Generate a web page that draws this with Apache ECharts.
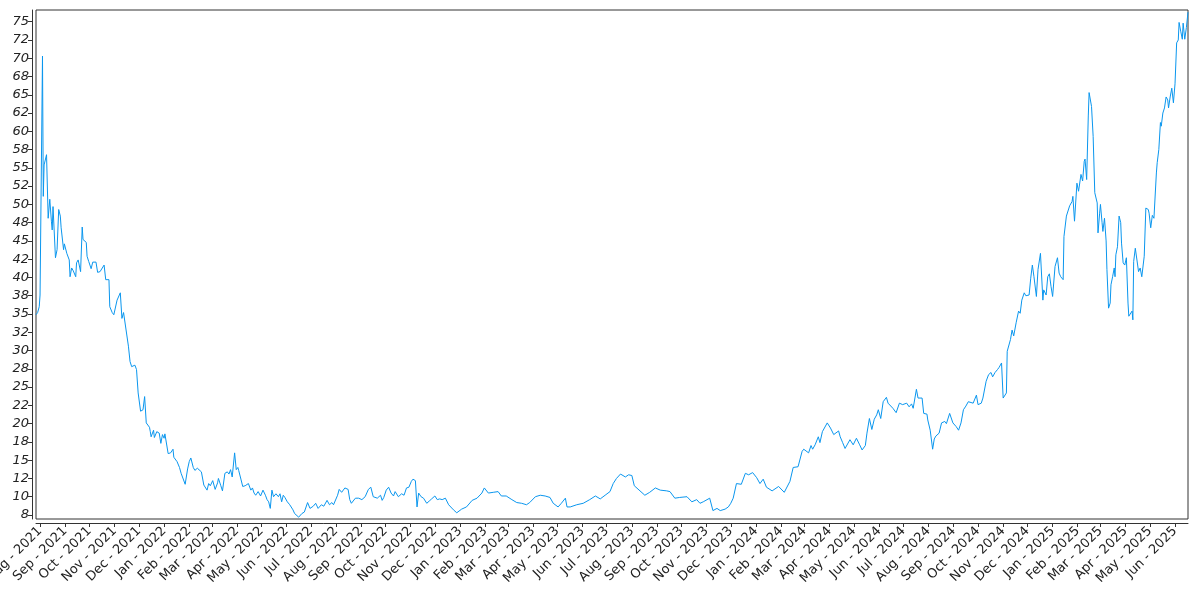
<!DOCTYPE html>
<html><head><meta charset="utf-8">
<script src="https://cdn.jsdelivr.net/npm/echarts@6/dist/echarts.min.js"></script>
<style>html,body{margin:0;padding:0;background:#fff}#c{width:1200px;height:600px}</style>
</head><body><div id="c"></div>
<script>
const dates = [
'2021-07-27','2021-07-29','2021-07-31','2021-08-01','2021-08-04','2021-08-05','2021-08-06','2021-08-09','2021-08-11','2021-08-13','2021-08-15','2021-08-16','2021-08-17','2021-08-20','2021-08-22','2021-08-24','2021-08-26','2021-08-27','2021-08-30','2021-08-31',
'2021-09-02','2021-09-03','2021-09-06','2021-09-07','2021-09-09','2021-09-11','2021-09-14','2021-09-15','2021-09-17','2021-09-20','2021-09-22','2021-09-23','2021-09-27','2021-09-28','2021-09-30',
'2021-10-03','2021-10-05','2021-10-07','2021-10-09','2021-10-11','2021-10-14','2021-10-16','2021-10-19','2021-10-21','2021-10-25','2021-10-26','2021-10-29','2021-10-31',
'2021-11-04','2021-11-08','2021-11-10','2021-11-12','2021-11-14','2021-11-18','2021-11-20','2021-11-22','2021-11-26','2021-11-28','2021-11-30',
'2021-12-03','2021-12-06','2021-12-08','2021-12-10','2021-12-14','2021-12-15','2021-12-16','2021-12-19','2021-12-20','2021-12-23','2021-12-26','2021-12-28','2021-12-30',
'2022-01-01','2022-01-02','2022-01-06','2022-01-09','2022-01-12','2022-01-13','2022-01-17','2022-01-20','2022-01-22','2022-01-24','2022-01-27','2022-01-30',
'2022-02-01','2022-02-03','2022-02-06','2022-02-08','2022-02-11','2022-02-13','2022-02-16','2022-02-19','2022-02-23','2022-02-25','2022-02-27',
'2022-03-02','2022-03-05','2022-03-08','2022-03-09','2022-03-12','2022-03-14','2022-03-17','2022-03-20','2022-03-22','2022-03-24','2022-03-26','2022-03-29','2022-03-31',
'2022-04-02','2022-04-03','2022-04-06','2022-04-08','2022-04-11','2022-04-13','2022-04-15','2022-04-18','2022-04-20','2022-04-22','2022-04-24','2022-04-27','2022-04-30',
'2022-05-03','2022-05-06','2022-05-08','2022-05-10','2022-05-12','2022-05-14','2022-05-16','2022-05-19','2022-05-22','2022-05-24','2022-05-26','2022-05-28','2022-05-30',
'2022-06-02','2022-06-05','2022-06-09','2022-06-11','2022-06-16','2022-06-20','2022-06-23','2022-06-27','2022-06-30',
'2022-07-04','2022-07-07','2022-07-10','2022-07-14','2022-07-17','2022-07-21','2022-07-24','2022-07-27','2022-07-29',
'2022-08-03','2022-08-05','2022-08-08','2022-08-12','2022-08-16','2022-08-18','2022-08-20','2022-08-25','2022-08-29',
'2022-09-02','2022-09-06','2022-09-10','2022-09-13','2022-09-16','2022-09-21','2022-09-25','2022-09-27','2022-09-29',
'2022-10-02','2022-10-05','2022-10-08','2022-10-11','2022-10-13','2022-10-17','2022-10-21','2022-10-24','2022-10-27','2022-10-30',
'2022-11-02','2022-11-04','2022-11-07','2022-11-09','2022-11-11','2022-11-14','2022-11-17','2022-11-21','2022-11-24','2022-11-27',
'2022-12-01','2022-12-04','2022-12-07','2022-12-10','2022-12-14','2022-12-18','2022-12-24','2022-12-28',
'2023-01-03','2023-01-09','2023-01-16','2023-01-22','2023-01-28','2023-01-31',
'2023-02-05','2023-02-11','2023-02-17','2023-02-21','2023-02-27',
'2023-03-06','2023-03-12','2023-03-18','2023-03-24','2023-03-28',
'2023-04-04','2023-04-10','2023-04-16','2023-04-22','2023-04-26',
'2023-05-02','2023-05-06','2023-05-11','2023-05-13','2023-05-17','2023-05-25',
'2023-06-02','2023-06-10','2023-06-17','2023-06-23','2023-06-29',
'2023-07-05','2023-07-09','2023-07-13','2023-07-18','2023-07-24','2023-07-28',
'2023-08-01','2023-08-04','2023-08-11','2023-08-17','2023-08-23','2023-08-30',
'2023-09-05','2023-09-13','2023-09-17','2023-09-23','2023-09-29',
'2023-10-08','2023-10-14','2023-10-20','2023-10-24','2023-10-28',
'2023-11-05','2023-11-09','2023-11-14','2023-11-18','2023-11-24','2023-11-28',
'2023-12-01','2023-12-04','2023-12-08','2023-12-14','2023-12-19','2023-12-23','2023-12-28',
'2024-01-02','2024-01-06','2024-01-10','2024-01-14','2024-01-21','2024-01-29',
'2024-02-05','2024-02-12','2024-02-16','2024-02-22','2024-02-27','2024-02-29',
'2024-03-06','2024-03-09','2024-03-11','2024-03-14','2024-03-18','2024-03-20','2024-03-23','2024-03-29',
'2024-04-02','2024-04-06','2024-04-12','2024-04-14','2024-04-17','2024-04-20','2024-04-26','2024-04-30',
'2024-05-04','2024-05-08','2024-05-11','2024-05-15','2024-05-17','2024-05-20','2024-05-23','2024-05-26','2024-05-29','2024-05-31',
'2024-06-03','2024-06-06','2024-06-10','2024-06-12','2024-06-18','2024-06-22','2024-06-26','2024-06-30',
'2024-07-05','2024-07-08','2024-07-11','2024-07-13','2024-07-17','2024-07-19','2024-07-24','2024-07-26','2024-07-30','2024-07-31',
'2024-08-03','2024-08-06','2024-08-08','2024-08-10','2024-08-14','2024-08-17','2024-08-21','2024-08-23','2024-08-27','2024-08-31',
'2024-09-04','2024-09-07','2024-09-10','2024-09-13','2024-09-16','2024-09-19','2024-09-25','2024-09-29',
'2024-10-01','2024-10-05','2024-10-07','2024-10-11','2024-10-14','2024-10-17','2024-10-19','2024-10-22','2024-10-25','2024-10-27','2024-10-30',
'2024-11-01','2024-11-05','2024-11-06','2024-11-10','2024-11-12','2024-11-14','2024-11-17','2024-11-20','2024-11-22','2024-11-24','2024-11-27','2024-11-29',
'2024-12-03','2024-12-05','2024-12-07','2024-12-09','2024-12-12','2024-12-14','2024-12-17','2024-12-20','2024-12-21','2024-12-24','2024-12-26','2024-12-28','2024-12-30',
'2025-01-01','2025-01-04','2025-01-07','2025-01-09','2025-01-11','2025-01-14','2025-01-15','2025-01-18','2025-01-22','2025-01-25','2025-01-26','2025-01-28','2025-01-31',
'2025-02-02','2025-02-04','2025-02-05','2025-02-07','2025-02-09','2025-02-10','2025-02-12','2025-02-14','2025-02-15','2025-02-18','2025-02-20','2025-02-22','2025-02-25','2025-02-26','2025-02-28',
'2025-03-01','2025-03-03','2025-03-04','2025-03-06','2025-03-08','2025-03-09','2025-03-11','2025-03-13','2025-03-14','2025-03-16','2025-03-18','2025-03-19','2025-03-20','2025-03-22','2025-03-24','2025-03-26','2025-03-27','2025-03-29','2025-03-31',
'2025-04-02','2025-04-04','2025-04-05','2025-04-07','2025-04-09','2025-04-10','2025-04-11','2025-04-13','2025-04-15','2025-04-17','2025-04-19','2025-04-21','2025-04-24','2025-04-26','2025-04-29','2025-04-30',
'2025-05-02','2025-05-04','2025-05-06','2025-05-09','2025-05-10','2025-05-12','2025-05-14','2025-05-15','2025-05-17','2025-05-19','2025-05-21','2025-05-23','2025-05-24','2025-05-26','2025-05-28','2025-05-30',
'2025-06-01','2025-06-03','2025-06-05','2025-06-06','2025-06-08','2025-06-10','2025-06-11','2025-06-13','2025-06-15','2025-06-17'
];
const values = [
34.9,35.2,36.0,37.6,70.3,51.1,55.4,56.8,48.1,50.7,47.7,46.5,49.7,42.7,43.8,49.3,48.4,46.8,43.8,44.6,
44.5,43.3,42.4,40.1,41.3,40.9,40.1,42.0,42.4,40.8,46.9,45.2,44.8,42.9,42.2,
41.2,42.1,41.9,42.1,40.7,40.8,40.6,41.7,39.7,39.7,36.0,35.2,34.9,
36.9,37.9,34.4,35.2,35.0,30.6,28.5,27.8,28.0,27.4,24.2,
21.7,21.9,23.7,20.1,19.5,18.9,18.2,19.1,18.1,18.9,18.7,17.3,18.5,
18.0,18.6,15.9,16.0,16.5,15.4,14.8,14.0,13.2,13.1,11.7,13.8,
14.8,15.3,14.0,13.6,13.9,13.7,13.4,11.6,10.9,11.8,11.5,
12.2,11.0,11.9,12.5,11.5,10.8,13.2,13.4,13.1,13.7,12.7,16.0,13.7,
14.0,13.6,12.3,11.4,11.5,11.3,11.8,10.9,11.2,10.5,10.2,10.7,10.1,
10.9,10.2,9.6,9.3,8.4,10.9,10.0,10.4,10.0,10.4,9.3,10.2,9.9,
9.3,8.9,8.2,7.7,7.2,7.7,7.9,9.2,8.4,
8.7,9.1,8.4,8.9,8.7,9.5,8.9,9.2,8.9,
10.2,11.0,10.6,11.2,11.0,9.6,9.1,9.8,9.8,
9.6,10.0,11.0,11.3,10.0,9.8,10.2,9.5,9.9,
10.9,11.3,10.5,10.1,10.7,10.0,10.4,10.2,11.2,11.3,
12.1,12.4,12.2,8.6,10.5,10.0,9.8,9.1,9.4,9.7,
10.1,9.6,9.7,9.6,9.8,8.9,8.2,7.8,
8.3,8.6,9.5,9.8,10.5,11.2,
10.5,10.6,10.7,10.1,10.1,
9.6,9.2,9.1,8.9,9.2,
10.0,10.2,10.1,9.9,9.1,
8.6,9.1,9.8,8.6,8.6,8.9,
9.1,9.6,10.1,9.7,10.2,
10.7,11.8,12.5,13.1,12.7,13.0,
12.9,11.5,10.8,10.2,10.6,11.2,
10.9,10.8,10.7,9.8,9.9,
10.0,9.3,9.6,9.1,9.3,
9.8,8.1,8.4,8.1,8.3,8.6,
9.1,9.8,11.8,11.7,13.2,13.0,13.3,
12.6,11.8,12.4,11.3,10.8,11.4,
10.6,12.1,14.0,14.1,16.2,16.5,
16.0,17.0,16.5,17.1,18.2,17.4,18.9,20.1,
19.4,18.5,19.0,18.2,17.4,16.6,17.8,17.1,
18.0,17.1,16.4,17.0,18.7,20.7,19.2,20.6,21.2,21.9,
20.7,23.0,23.6,22.8,22.1,21.5,22.8,22.6,
22.8,22.3,22.7,22.1,24.7,23.5,23.5,21.4,21.3,20.5,
19.1,16.5,17.9,18.3,18.7,20.1,20.3,20.0,21.4,20.1,
19.6,19.1,20.1,21.9,22.4,23.0,22.8,23.9,
22.6,22.8,23.5,25.8,26.7,27.0,26.4,27.0,27.4,27.7,28.3,
23.5,24.2,29.9,31.5,32.8,32.0,33.8,35.4,35.1,36.9,37.9,37.5,
37.6,39.9,41.7,40.1,37.4,41.1,43.3,36.9,38.3,37.6,40.1,40.5,38.8,
37.4,41.5,42.7,40.6,40.1,39.7,45.6,48.4,49.8,50.4,51.1,47.7,52.9,
51.8,51.8,54.1,53.2,55.9,56.2,53.4,62.1,65.3,63.4,59.3,51.6,50.2,46.1,48.8,
50.0,47.5,46.3,48.1,45.0,41.1,35.8,36.5,39.0,40.1,41.3,40.1,43.1,44.2,48.4,47.5,44.7,42.0,41.7,
42.7,36.5,34.7,34.9,35.4,34.2,42.2,44.0,44.2,40.8,41.3,40.1,42.9,49.5,49.3,48.8,
46.8,48.5,48.1,54.3,55.7,57.5,61.2,60.7,62.5,63.2,64.7,64.3,63.2,64.7,65.9,63.9,
66.5,72.1,72.5,74.9,73.7,72.6,74.8,72.6,74.2,76.3
];
const yTickValues = [7.5,10,12.5,15,17.5,20,22.5,25,27.5,30,32.5,35,37.5,40,42.5,45,47.5,50,52.5,55,57.5,60,62.5,65,67.5,70,72.5,75];
const yTickLabels = ['8','10','12','15','18','20','22','25','28','30','32','35','38','40','42','45','48','50','52','55','58','60','62','65','68','70','72','75'];
const monthNames = ['Jan','Feb','Mar','Apr','May','Jun','Jul','Aug','Sep','Oct','Nov','Dec'];
const xStart = '2021-07-27', xEnd = '2025-06-17';

function ts(s) { const p = s.split('-').map(Number); return Date.UTC(p[0], p[1] - 1, p[2]); }
const xTickValues = [];
for (let y = 2021, m = 7; y < 2025 || (y === 2025 && m <= 5); ) {
  xTickValues.push(Date.UTC(y, m, 1));
  m++; if (m > 11) { m = 0; y++; }
}
const seriesData = dates.map((d, i) => [ts(d), values[i]]);

const chart = echarts.init(document.getElementById('c'), null, {renderer: 'canvas'});
chart.setOption({
  animation: false,
  backgroundColor: '#ffffff',
  grid: {left: 36, right: 12, top: 10, bottom: 81, show: true, borderColor: '#333', borderWidth: 1, backgroundColor: 'transparent', containLabel: false, outerBoundsMode: 'none'},
  xAxis: {
    type: 'value', min: ts(xStart), max: ts(xEnd), offset: 4, scale: true,
    axisLine: {show: true, onZero: false, lineStyle: {color: '#333', width: 1}},
    axisTick: {show: true, customValues: xTickValues, length: 4, lineStyle: {color: '#333'}},
    axisLabel: {
      customValues: xTickValues, rotate: 45, margin: 6, fontSize: 13, color: '#222', fontFamily: 'DejaVu Sans',
      hideOverlap: false, showMinLabel: true, showMaxLabel: true,
      formatter: function (v) { const d = new Date(v); return monthNames[d.getUTCMonth()] + ' - ' + d.getUTCFullYear(); }
    },
    splitLine: {show: false}
  },
  yAxis: {
    type: 'value', min: 6.95, max: 76.6, offset: 4,
    axisLine: {show: true, onZero: false, lineStyle: {color: '#333', width: 1}},
    axisTick: {show: true, customValues: yTickValues, length: 4, lineStyle: {color: '#333'}},
    axisLabel: {
      customValues: yTickValues, margin: 3, fontSize: 13, color: '#222', fontFamily: 'DejaVu Sans', fontStyle: 'oblique',
      formatter: function (v) {
        let best = 0;
        for (let i = 1; i < yTickValues.length; i++) if (Math.abs(yTickValues[i] - v) < Math.abs(yTickValues[best] - v)) best = i;
        return yTickLabels[best];
      }
    },
    splitLine: {show: false}
  },
  series: [{
    type: 'line', data: seriesData, showSymbol: false, symbol: 'none',
    lineStyle: {color: '#0a96ee', width: 1}, itemStyle: {color: '#0a96ee'}, clip: true
  }]
});
</script>
</body></html>
